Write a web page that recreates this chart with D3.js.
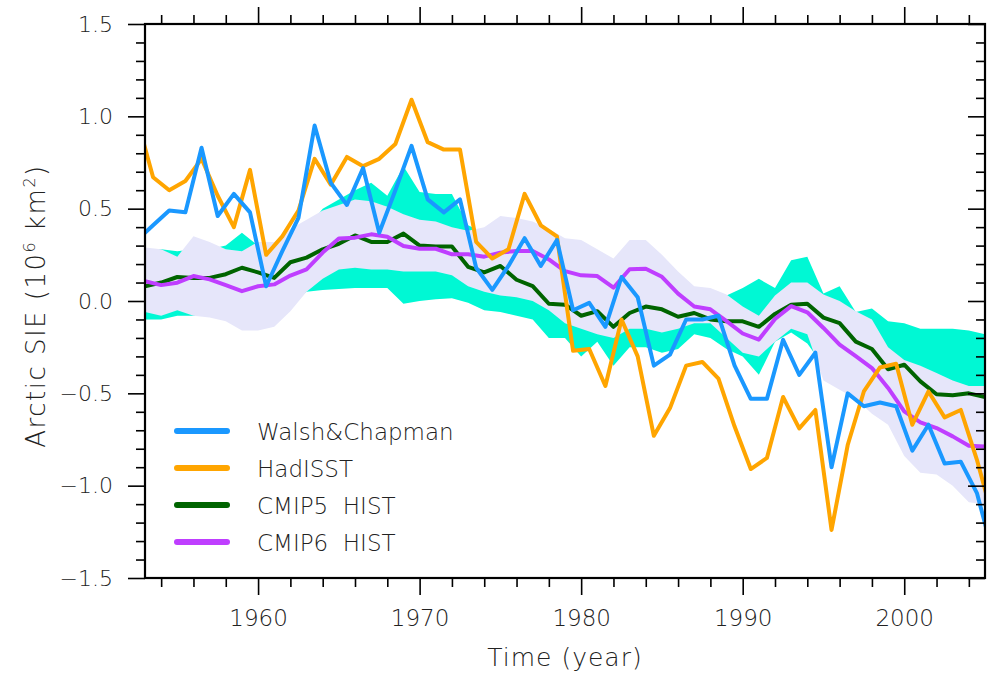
<!DOCTYPE html>
<html><head><meta charset="utf-8">
<script src="https://cdn.jsdelivr.net/npm/d3@7"></script>
<style>
html,body{margin:0;padding:0;background:#fff;}
svg text{font-family:"DejaVu Sans",sans-serif;font-weight:200;fill:#222;}
</style></head>
<body><svg id="chart" width="995" height="674"></svg>
<script>
// observations: annual values plotted at mid-year (year + 0.5)
const obsYears = d3.range(1952, 2006);
const walshChapman = [0.33,0.41,0.49,0.48,0.83,0.46,0.58,0.48,0.08,0.27,0.45,0.95,0.64,0.52,0.72,0.37,0.60,0.84,0.55,0.48,0.55,0.18,0.06,0.19,0.34,0.19,0.33,-0.05,-0.01,-0.14,0.13,0.02,-0.35,-0.29,-0.10,-0.10,-0.08,-0.35,-0.53,-0.53,-0.21,-0.40,-0.28,-0.90,-0.50,-0.57,-0.55,-0.57,-0.81,-0.67,-0.88,-0.87,-1.04,-1.37];
const hadISST = [0.99,0.67,0.60,0.65,0.77,0.57,0.40,0.71,0.25,0.35,0.49,0.77,0.63,0.78,0.73,0.77,0.85,1.09,0.86,0.82,0.82,0.32,0.23,0.28,0.58,0.41,0.35,-0.27,-0.26,-0.46,-0.10,-0.30,-0.73,-0.58,-0.35,-0.33,-0.42,-0.68,-0.91,-0.85,-0.52,-0.69,-0.59,-1.24,-0.78,-0.49,-0.36,-0.34,-0.67,-0.49,-0.63,-0.59,-0.86,-1.18];
// model ensembles: plotted at integer years
const modelYears = d3.range(1953, 2006);
const cmip5Mean = [0.08,0.10,0.13,0.125,0.125,0.145,0.18,0.155,0.125,0.21,0.235,0.28,0.31,0.355,0.32,0.32,0.365,0.30,0.295,0.295,0.185,0.155,0.19,0.115,0.08,-0.015,-0.02,-0.08,-0.055,-0.14,-0.065,-0.03,-0.045,-0.085,-0.065,-0.10,-0.11,-0.11,-0.14,-0.07,-0.02,-0.015,-0.09,-0.12,-0.22,-0.26,-0.37,-0.345,-0.435,-0.505,-0.51,-0.50,-0.52];
const cmip6Mean = [0.107,0.086,0.099,0.135,0.117,0.086,0.053,0.080,0.090,0.138,0.171,0.262,0.339,0.343,0.361,0.348,0.298,0.283,0.283,0.253,0.253,0.240,0.262,0.271,0.271,0.225,0.162,0.139,0.135,0.072,0.172,0.175,0.131,0.040,-0.030,-0.045,-0.109,-0.176,-0.209,-0.097,-0.028,-0.061,-0.146,-0.236,-0.299,-0.363,-0.471,-0.598,-0.657,-0.688,-0.733,-0.784,-0.788];
const cmip5Upper = [0.28,0.28,0.27,0.28,0.28,0.30,0.37,0.30,0.31,0.37,0.39,0.50,0.55,0.60,0.64,0.57,0.73,0.59,0.58,0.58,0.41,0.37,0.30,0.28,0.25,0.20,0.10,0.05,0.00,-0.05,0.05,0.05,0.00,-0.05,-0.02,0.00,0.03,0.07,0.12,0.07,0.22,0.24,0.04,0.08,-0.06,-0.04,-0.11,-0.12,-0.15,-0.15,-0.15,-0.16,-0.18];
const cmip5Lower = [-0.10,-0.10,-0.08,-0.08,-0.08,-0.08,-0.10,-0.12,-0.10,-0.02,0.05,0.06,0.065,0.07,0.07,0.07,-0.015,0.00,0.01,0.015,-0.01,-0.05,-0.06,-0.08,-0.10,-0.20,-0.20,-0.30,-0.22,-0.35,-0.25,-0.25,-0.28,-0.26,-0.18,-0.20,-0.26,-0.30,-0.40,-0.22,-0.17,-0.23,-0.35,-0.40,-0.30,-0.30,-0.30,-0.35,-0.40,-0.43,-0.46,-0.49,-0.50];
const cmip6Upper = [0.29,0.28,0.24,0.35,0.32,0.28,0.27,0.32,0.32,0.39,0.44,0.49,0.52,0.55,0.54,0.51,0.47,0.44,0.43,0.40,0.38,0.40,0.46,0.45,0.43,0.39,0.34,0.33,0.28,0.23,0.33,0.33,0.25,0.16,0.08,0.07,0.035,-0.03,-0.08,0.03,0.10,0.10,0.035,0.0,-0.055,-0.10,-0.25,-0.32,-0.35,-0.39,-0.43,-0.46,-0.46];
const cmip6Lower = [-0.06,-0.08,-0.05,-0.08,-0.09,-0.11,-0.16,-0.16,-0.14,-0.055,0.05,0.12,0.17,0.18,0.17,0.17,0.16,0.16,0.16,0.14,0.08,0.05,0.03,0.02,0.00,-0.05,-0.12,-0.15,-0.18,-0.20,-0.15,-0.15,-0.17,-0.15,-0.12,-0.12,-0.20,-0.28,-0.30,-0.22,-0.15,-0.18,-0.43,-0.48,-0.53,-0.61,-0.67,-0.84,-0.93,-0.94,-1.00,-1.09,-1.10];
const seriesNames = ["Walsh&Chapman","HadISST","CMIP5  HIST","CMIP6  HIST"];
const seriesColors = ["#1a98ff","#ffa500","#006400","#bf3eff"];
const bandColors = ["#00f8d4","#e6e6fa"];
const xMajorTicks = [1960,1970,1980,1990,2000];
const yMajorTicks = [-1.5,-1.0,-0.5,0.0,0.5,1.0,1.5];

const svg = d3.select("#chart");
const L=145,R=985,T=24,B=578;
const x = d3.scaleLinear().domain([1953,2005]).range([L,R]);
const y = d3.scaleLinear().domain([-1.5,1.5]).range([B,T]);

svg.append("defs").append("clipPath").attr("id","clip")
  .append("rect").attr("x",L).attr("y",T).attr("width",R-L).attr("height",B-T);
const g = svg.append("g").attr("clip-path","url(#clip)");

function band(up, lo){
  return d3.area().x((d,i)=>x(modelYears[i])).y0((d,i)=>y(lo[i])).y1((d,i)=>y(up[i]))(up);
}
g.append("path").attr("d",band(cmip5Upper,cmip5Lower)).attr("fill",bandColors[0]);
g.append("path").attr("d",band(cmip6Upper,cmip6Lower)).attr("fill",bandColors[1]);

const lineObs = d3.line().x((d,i)=>x(obsYears[i]+0.5)).y(d=>y(d));
const lineMod = d3.line().x((d,i)=>x(modelYears[i])).y(d=>y(d));
const lw = 4;
g.append("path").attr("d",lineMod(cmip5Mean)).attr("fill","none").attr("stroke",seriesColors[2]).attr("stroke-width",lw).attr("stroke-linejoin","round");
g.append("path").attr("d",lineMod(cmip6Mean)).attr("fill","none").attr("stroke",seriesColors[3]).attr("stroke-width",lw).attr("stroke-linejoin","round");
g.append("path").attr("d",lineObs(hadISST)).attr("fill","none").attr("stroke",seriesColors[1]).attr("stroke-width",lw).attr("stroke-linejoin","round");
g.append("path").attr("d",lineObs(walshChapman)).attr("fill","none").attr("stroke",seriesColors[0]).attr("stroke-width",lw).attr("stroke-linejoin","round");

// axes
function styleAxis(sel){ sel.select(".domain").remove(); sel.selectAll("line").attr("stroke","#000").attr("stroke-width",1.6); }
const xMinor = d3.range(1954,2005,2).filter(v=>v%10!==0);
const yMinor = d3.range(-15,16,1).filter(v=>v%5!==0).map(v=>v/10);
svg.append("g").attr("transform",`translate(0,${B})`).call(d3.axisBottom(x).tickValues(xMinor).tickSize(9).tickFormat("")).call(styleAxis);
svg.append("g").attr("transform",`translate(0,${B})`).call(d3.axisBottom(x).tickValues(xMajorTicks).tickSize(17).tickPadding(15).tickFormat(d3.format("d"))).call(styleAxis)
  .selectAll("text").attr("font-size",23);
svg.append("g").attr("transform",`translate(0,${T})`).call(d3.axisTop(x).tickValues(xMinor).tickSize(9).tickFormat("")).call(styleAxis);
svg.append("g").attr("transform",`translate(0,${T})`).call(d3.axisTop(x).tickValues(xMajorTicks).tickSize(17).tickFormat("")).call(styleAxis);
svg.append("g").attr("transform",`translate(${L},0)`).call(d3.axisLeft(y).tickValues(yMinor).tickSize(9).tickFormat("")).call(styleAxis);
svg.append("g").attr("transform",`translate(${L},0)`).call(d3.axisLeft(y).tickValues(yMajorTicks).tickSize(17).tickPadding(15).tickFormat(d=>d3.format(".1f")(d).replace("−","\u2212"))).call(styleAxis)
  .selectAll("text").attr("font-size",22);
svg.append("g").attr("transform",`translate(${R},0)`).call(d3.axisLeft(y).tickValues(yMinor).tickSize(9).tickFormat("")).call(styleAxis);
svg.append("g").attr("transform",`translate(${R},0)`).call(d3.axisLeft(y).tickValues(yMajorTicks).tickSize(17).tickFormat("")).call(styleAxis);

svg.append("rect").attr("x",L).attr("y",T).attr("width",R-L).attr("height",B-T)
  .attr("fill","none").attr("stroke","#000").attr("stroke-width",2.2);

// axis titles
svg.append("text").attr("x",(L+R)/2).attr("y",666).attr("text-anchor","middle").attr("font-size",25).attr("letter-spacing",1).text("Time (year)");
const yt = svg.append("text").attr("transform","translate(45,306) rotate(-90)").attr("text-anchor","middle").attr("font-size",26).attr("letter-spacing",1.5);
yt.append("tspan").text("Arctic SIE (10");
yt.append("tspan").attr("dy",-10).attr("font-size",16).text("6");
yt.append("tspan").attr("dy",10).text(" km");
yt.append("tspan").attr("dy",-10).attr("font-size",16).text("2");
yt.append("tspan").attr("dy",10).text(")");

// legend
const leg = svg.append("g");
seriesNames.forEach((n,i)=>{
  const yy = 431 + i*37;
  leg.append("line").attr("x1",177).attr("x2",227).attr("y1",yy).attr("y2",yy)
    .attr("stroke",seriesColors[i]).attr("stroke-width",6).attr("stroke-linecap","round");
  leg.append("text").attr("x",257).attr("y",yy+8.5).attr("font-size",23).attr("xml:space","preserve").text(n);
});
</script></body></html>
